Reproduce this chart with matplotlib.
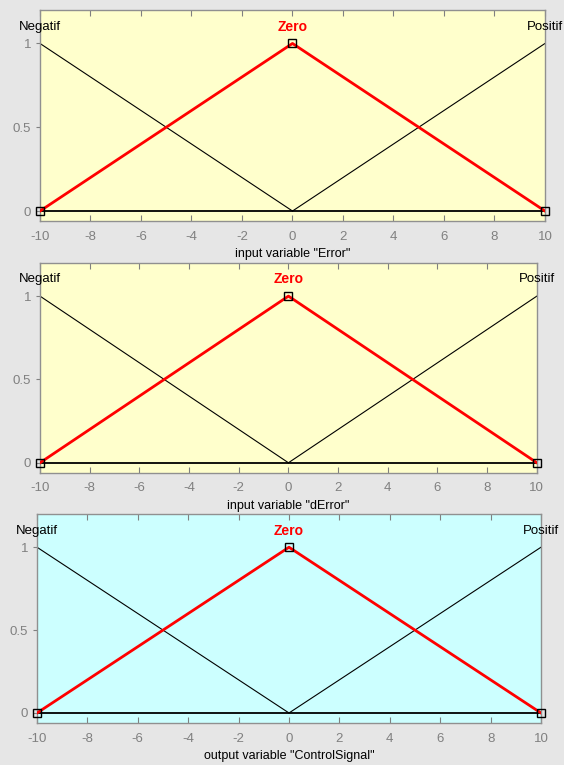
#!/usr/bin/env python3
"""Fuzzy membership functions for Error, dError and ControlSignal."""
import matplotlib.pyplot as plt

VAR_LABELS = ['input variable "Error"', 'input variable "dError"',
              'output variable "ControlSignal"']
PANEL_COLORS = ["#ffffcc", "#ffffcc", "#ccffff"]
X_RANGE = [-10, 10]

MF_NAMES = ["Negatif", "Zero", "Positif"]
MF_X = [[-10, 0], [-10, 0, 10], [0, 10]]
MF_Y = [[1, 0], [0, 1, 0], [0, 1]]
MF_PEAK = [-10, 0, 10]
SELECTED = "Zero"

X_TICKS = [-10, -8, -6, -4, -2, 0, 2, 4, 6, 8, 10]
Y_TICKS = [0, 0.5, 1]
Y_TICKLABELS = ["0", "0.5", "1"]

# axes rectangles in figure fraction [left, bottom, width, height]
RECTS = [
    [0.0709, 0.711, 0.8954, 0.276],
    [0.0709, 0.382, 0.881, 0.2745],
    [0.0656, 0.055, 0.8936, 0.273],
]

plt.rcParams["font.family"] = ["Liberation Sans", "DejaVu Sans"]
plt.rcParams["axes.unicode_minus"] = False

fig = plt.figure(figsize=(5.64, 7.65), dpi=100)
fig.patch.set_facecolor("#e6e6e6")

for rect, label, bg in zip(RECTS, VAR_LABELS, PANEL_COLORS):
    ax = fig.add_axes(rect)
    ax.set_facecolor(bg)
    ax.set_xlim(*X_RANGE)
    ax.set_ylim(-0.06, 1.2)

    ax.plot(X_RANGE, [0, 0], color="black", lw=1.3, zorder=2)
    for name, xs, ys, peak in zip(MF_NAMES, MF_X, MF_Y, MF_PEAK):
        if name == SELECTED:
            ax.plot(xs, ys, color="#ff0000", lw=2.0, zorder=3)
            ax.plot(xs, ys, ls="none", marker="s", ms=5.5, mfc="none",
                    mec="black", mew=1.0, zorder=4, clip_on=False)
            ax.text(peak, 1.1, name, color="#ff0000", fontweight="bold",
                    fontsize=10, ha="center", va="center")
        else:
            ax.plot(xs, ys, color="black", lw=0.8, zorder=2)
            ax.text(peak, 1.1, name, color="black", fontsize=9.5,
                    ha="center", va="center", clip_on=False)

    ax.set_xticks(X_TICKS)
    ax.set_yticks(Y_TICKS)
    ax.set_yticklabels(Y_TICKLABELS)
    ax.tick_params(axis="x", direction="in", top=True, length=4,
                   color="#808080", labelcolor="#808080", labelsize=9.5, pad=7)
    ax.tick_params(axis="y", direction="out", length=3,
                   color="#808080", labelcolor="#808080", labelsize=9.5)
    for sp in ax.spines.values():
        sp.set_color("#909090")
        sp.set_linewidth(1.0)
    ax.set_xlabel(label, fontsize=9, labelpad=4)

fig.savefig("out.png", dpi=100, facecolor=fig.get_facecolor())
